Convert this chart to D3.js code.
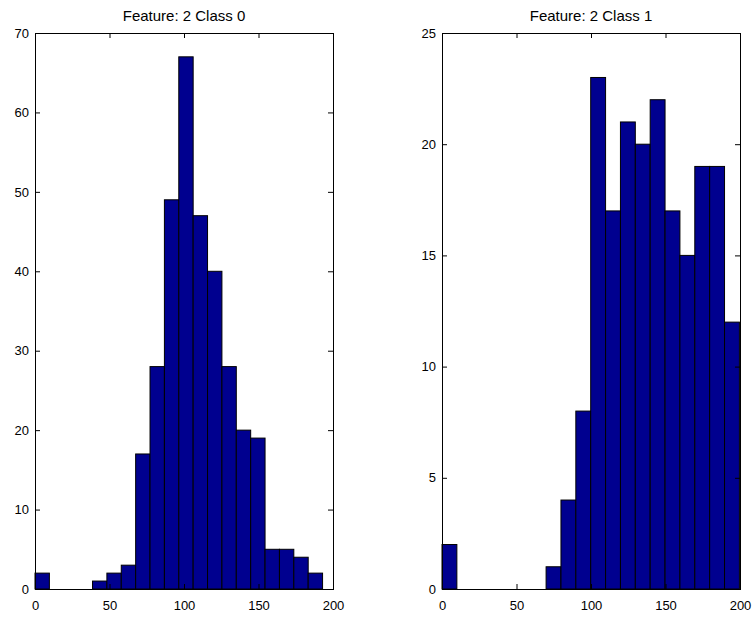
<!DOCTYPE html>
<html>
<head>
<meta charset="utf-8">
<title>Feature 2 histograms</title>
<style>
  body { margin: 0; background: #fff; }
  svg text { font-family: "Liberation Sans", Arial, Helvetica, sans-serif; }
</style>
</head>
<body>
<script src="https://d3js.org/d3.v7.min.js"></script>
<script>
// bin counts
var class0Counts = [2, 0, 0, 0, 1, 2, 3, 17, 28, 49, 67, 47, 40, 28, 20, 19, 5, 5, 4, 2];
var class0BinWidth = 9.65;
var class1Counts = [2, 0, 0, 0, 0, 0, 0, 1, 4, 8, 23, 17, 21, 20, 22, 17, 15, 19, 19, 12];
var class1BinWidth = 9.98;

var xTicks = [0, 50, 100, 150, 200];
var yTicks0 = [0, 10, 20, 30, 40, 50, 60, 70];
var yTicks1 = [0, 5, 10, 15, 20, 25];

var W = 756, H = 617;
var svg = d3.select("body").append("svg")
    .attr("width", W)
    .attr("height", H);

function histPanel(left, counts, binW, yMax, yTicks, title) {
    var top = 33, bottom = 589, width = 298;

    var x = d3.scaleLinear().domain([0, 200]).range([left, left + width]);
    var y = d3.scaleLinear().domain([0, yMax]).range([bottom, top]);

    var g = svg.append("g");

    var bins = counts.map(function(c, i) { return {x0: i * binW, x1: (i + 1) * binW, n: c}; });

    g.selectAll("rect.bar")
        .data(bins)
        .enter().append("rect")
        .attr("class", "bar")
        .attr("x", function(d) { return x(d.x0); })
        .attr("width", function(d) { return x(d.x1) - x(d.x0); })
        .attr("y", function(d) { return y(d.n); })
        .attr("height", function(d) { return y(0) - y(d.n); })
        .style("fill", "#00008f")
        .style("stroke", "#000")
        .style("stroke-width", "1px");

    // box
    g.append("rect")
        .attr("x", left + 0.5)
        .attr("y", top + 0.5)
        .attr("width", width)
        .attr("height", bottom - top)
        .style("fill", "none")
        .style("stroke", "#000")
        .style("stroke-width", "1px");

    // inward ticks on all sides, labels bottom and left
    var xb = d3.axisBottom(x).tickValues(xTicks).tickSizeInner(-5).tickSizeOuter(0).tickPadding(12);
    var xt = d3.axisTop(x).tickValues(xTicks).tickSizeInner(-5).tickSizeOuter(0).tickFormat("");
    var yl = d3.axisLeft(y).tickValues(yTicks).tickSizeInner(-5).tickSizeOuter(0).tickPadding(6);
    var yr = d3.axisRight(y).tickValues(yTicks).tickSizeInner(-5).tickSizeOuter(0).tickFormat("");

    [[xb, "translate(0," + bottom + ")"], [xt, "translate(0," + top + ")"],
     [yl, "translate(" + left + ",0)"], [yr, "translate(" + (left + width) + ",0)"]].forEach(function(a) {
        var ax = g.append("g").attr("transform", a[1]).call(a[0]);
        ax.select(".domain").remove();
        ax.selectAll("text").style("font-size", "13px").style("fill", "#000");
    });

    g.append("text")
        .attr("x", left + width / 2)
        .attr("y", 21)
        .attr("text-anchor", "middle")
        .style("font-size", "15px")
        .text(title);
}

histPanel(35, class0Counts, class0BinWidth, 70, yTicks0, "Feature: 2 Class 0");
histPanel(442, class1Counts, class1BinWidth, 25, yTicks1, "Feature: 2 Class 1");
</script>
</body>
</html>
